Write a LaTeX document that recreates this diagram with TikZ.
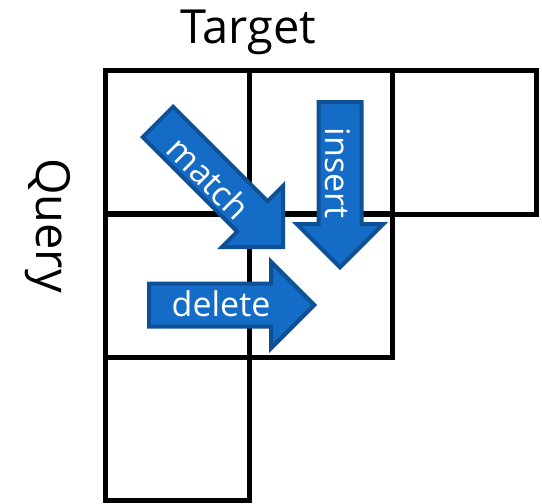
\documentclass[tikz,border=0pt]{standalone}
\usepackage{fontspec}
\setmainfont{Open Sans}
\definecolor{arrowfill}{RGB}{20,108,198}
\definecolor{arrowline}{RGB}{14,80,150}
\begin{document}
\begin{tikzpicture}[x=1pt,y=-1pt,
  cell/.style={draw=black,line width=5pt,minimum width=143.5pt,minimum height=143.3pt,inner sep=0pt,outer sep=0pt},
  blockarrow/.style={fill=arrowfill,draw=arrowline,line width=4pt,line join=miter},
  arrowlabel/.style={text=white,font=\fontsize{34}{40}\selectfont,inner sep=0pt},
  axislabel/.style={text=black,font=\fontsize{47}{56}\selectfont,inner sep=0pt}]
\useasboundingbox (0,0) rectangle (542,504);
% grid cells
\node[cell] (c00) at (177.5,142.5) {};
\node[cell] (c01) at (321,142.5) {};
\node[cell] (c02) at (464.5,142.5) {};
\node[cell] (c10) at (177.5,285.5) {};
\node[cell] (c11) at (321,285.5) {};
\node[cell] (c20) at (177.5,429) {};
% axis labels
\node[axislabel,anchor=base] (target) at (248.5,43) {Target};
\node[axislabel,anchor=base,rotate=-90] (query) at (37,225.5) {Query};
% match arrow
\begin{scope}[shift={(156.5,120.5)},rotate=-45]
  \draw[blockarrow] (2,-21.5) -- (135.7,-21.5) -- (135.7,-43.2) -- (178.9,0) -- (135.7,43.2) -- (135.7,21.5) -- (2,21.5) -- cycle;
\end{scope}
% insert arrow
\begin{scope}[shift={(340,100)},rotate=-90]
  \draw[blockarrow] (2,-21.5) -- (124,-21.5) -- (124,-43.2) -- (167.2,0) -- (124,43.2) -- (124,21.5) -- (2,21.5) -- cycle;
\end{scope}
% delete arrow
\begin{scope}[shift={(147,305)}]
  \draw[blockarrow] (2,-21.5) -- (124,-21.5) -- (124,-43.2) -- (167.2,0) -- (124,43.2) -- (124,21.5) -- (2,21.5) -- cycle;
\end{scope}
% arrow labels
\node[arrowlabel,rotate=-45] (matchlabel) at (209,178) {match};
\node[arrowlabel,anchor=base,rotate=-90] (insertlabel) at (325,173) {insert};
\node[arrowlabel,anchor=base] (deletelabel) at (221,316.7) {delete};
\end{tikzpicture}
\end{document}
